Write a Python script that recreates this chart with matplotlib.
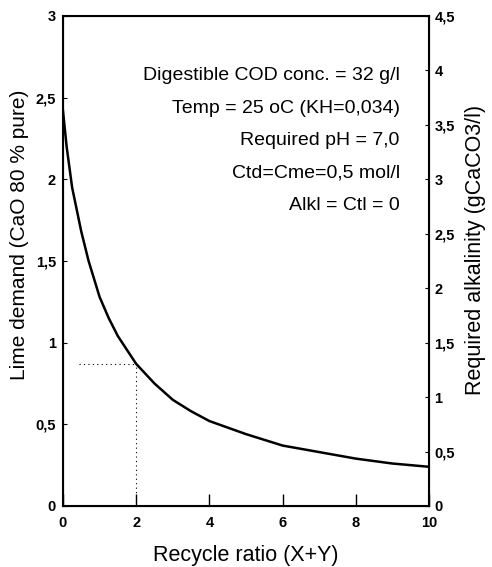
import matplotlib
matplotlib.use('Agg')
import matplotlib.pyplot as plt
from matplotlib.ticker import FuncFormatter

# values
recycle_ratio = [0, 0.1, 0.25, 0.5, 0.7, 1.0, 1.25, 1.5, 2.0, 2.5, 3.0, 3.5, 4.0, 5.0, 6.0, 7.0, 8.0, 9.0, 10.0]
lime_demand = [2.42, 2.2, 1.95, 1.68, 1.5, 1.28, 1.15, 1.04, 0.87, 0.75, 0.65, 0.58, 0.52, 0.44, 0.37, 0.33, 0.29, 0.26, 0.24]

# dotted guide at recycle ratio 2
guide_x = 2.0
guide_y = 0.87
guide_start = 0.45

notes = ['Digestible COD conc. = 32 g/l',
         'Temp = 25 oC (KH=0,034)',
         'Required pH = 7,0',
         'Ctd=Cme=0,5 mol/l',
         'Alkl = Ctl = 0']

left_ticks = [0, 0.5, 1, 1.5, 2, 2.5, 3]
right_ticks = [0, 0.5, 1, 1.5, 2, 2.5, 3, 3.5, 4, 4.5]
x_ticks = [0, 2, 4, 6, 8, 10]

plt.rcParams['font.family'] = ['Liberation Sans', 'DejaVu Sans']


def comma(v, pos):
    s = ('%g' % v)
    return s.replace('.', ',')


def main():
    fig = plt.figure(figsize=(4.92, 5.67), dpi=100)
    ax = fig.add_axes([0.128, 0.1076, 0.744, 0.8642])
    ax.plot(recycle_ratio, lime_demand, color='black', lw=1.8)
    ax.plot([guide_start, guide_x], [guide_y, guide_y], color='black', lw=0.8, ls=(0, (1, 3)))
    ax.plot([guide_x, guide_x], [0, guide_y], color='black', lw=0.8, ls=(0, (1, 3)))

    ax.set_xlim(0, 10)
    ax.set_ylim(0, 3)
    ax.set_xticks(x_ticks)
    ax.set_yticks(left_ticks)
    ax.yaxis.set_major_formatter(FuncFormatter(comma))
    ax.tick_params(axis='x', direction='in', length=9, width=1, labelsize=10.5, pad=7)
    ax.tick_params(axis='y', direction='in', length=3, width=0.8, labelsize=10.5, pad=5)
    for lbl in ax.get_xticklabels() + ax.get_yticklabels():
        lbl.set_fontweight('bold')
    for sp in ax.spines.values():
        sp.set_linewidth(1.5)

    ax.set_xlabel('Recycle ratio (X+Y)', fontsize=15.5, labelpad=11)
    ax.set_ylabel('Lime demand (CaO 80 % pure)', fontsize=15)
    ax.yaxis.set_label_coords(-0.092, 0.553)

    ax2 = ax.twinx()
    ax2.set_ylim(0, 4.5)
    ax2.set_yticks(right_ticks)
    ax2.yaxis.set_major_formatter(FuncFormatter(comma))
    ax2.tick_params(axis='y', direction='in', length=3, width=0.8, labelsize=10.5, pad=4)
    for lbl in ax2.get_yticklabels():
        lbl.set_fontweight('bold')
    ax2.set_ylabel('Required alkalinity (gCaCO3/l)', fontsize=15.5)
    ax2.yaxis.set_label_coords(1.098, 0.522)

    y0 = 0.878
    for i, t in enumerate(notes):
        ax.text(0.92, y0 - i * 0.066, t, transform=ax.transAxes, ha='right', va='center', fontsize=14)

    fig.savefig('out.png', dpi=100)


if __name__ == '__main__':
    main()
